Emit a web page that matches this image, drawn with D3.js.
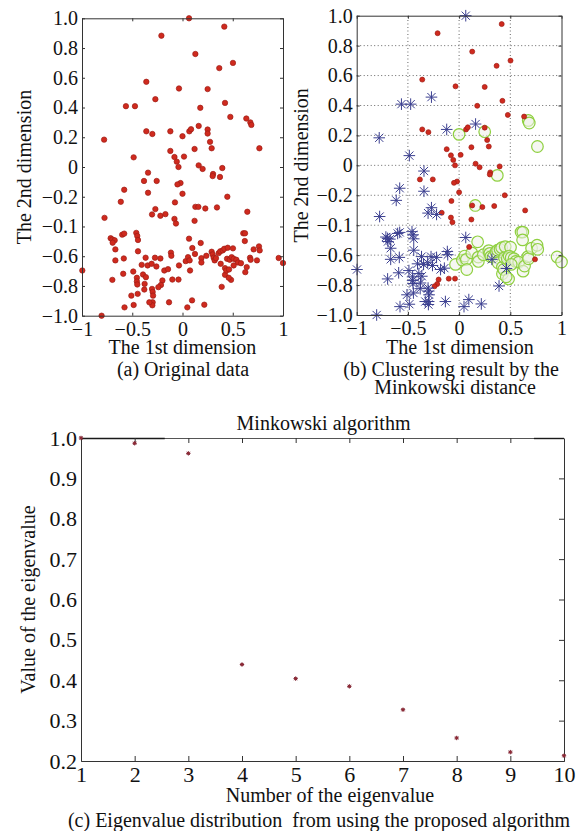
<!DOCTYPE html>
<html>
<head>
<meta charset="utf-8">
<script src="https://cdn.jsdelivr.net/npm/d3@7"></script>
<style>
  body { margin: 0; background: #fff; }
  svg { display: block; }
  text { font-family: "Liberation Serif", "Times New Roman", serif; fill: #111; }
</style>
</head>
<body>
<svg id="chart" width="576" height="831"></svg>
<script>
// samples: first and second dimension
const dim1 = [
  0.065, 0.416, -0.21, 0.128, 0.502, 0.366, -0.36, -0.035, 0.25, -0.27,
  -0.563, -0.473, 0.177, 0.423, 0.476, 0.635, 0.675, 0.685, -0.78, -0.36,
  -0.30, -0.121, 0.0, 0.068, 0.085, 0.161, 0.25, 0.25, 0.274, 0.29,
  0.12, 0.765, -0.121, -0.486, -0.08, 0.015, -0.057, -0.04, 0.161, 0.2,
  0.396, -0.343, 0.304, 0.30, 0.373, -0.383, -0.257, -0.02, -0.05, -0.58,
  -0.343, 0.0, 0.446, -0.614, -0.27, -0.303, -0.776, -0.22, -0.17, -0.08,
  -0.065, 0.128, 0.158, 0.227, 0.343, 0.645, 0.12, -0.715, -0.698, -0.675,
  -0.695, -0.668, -0.6, -0.58, -0.46, -0.45, -0.443, -0.443, -0.668, -0.584,
  -0.698, -0.59, -0.997, -0.49, -0.454, -0.454, -0.45, -0.367, -0.406, -0.347,
  -0.393, -0.364, -0.377, -0.38, -0.446, -0.509, -0.486, -0.577, -0.805, -0.307,
  -0.274, -0.26, -0.303, -0.297, -0.293, -0.297, -0.3, -0.33, -0.22, -0.115,
  -0.111, -0.181, -0.144, -0.2, -0.214, -0.24, -0.101, -0.134, -0.035, -0.04,
  0.065, 0.098, 0.048, 0.095, 0.217, 0.032, 0.055, 0.071, 0.075, 0.124,
  0.181, 0.188, 0.188, 0.237, 0.29, 0.3, 0.31, 0.32, 0.333, 0.36,
  0.376, 0.4, 0.416, 0.45, 0.502, 0.38, 0.39, 0.423, 0.423, 0.436,
  0.463, 0.443, 0.47, 0.489, 0.509, 0.536, 0.552, 0.582, 0.483, 0.46,
  0.509, 0.605, 0.622, 0.62, 0.625, 0.639, 0.672, 0.678, 0.708, 0.741,
  0.761, 0.768, 0.957, 1.0, -0.075
];
const dim2 = [
  1.0, 0.944, 0.883, 0.76, 0.70, 0.665, 0.573, 0.528, 0.524, 0.456,
  0.409, 0.409, 0.398, 0.431, 0.337, 0.326, 0.30, 0.283, 0.184, 0.24,
  0.222, 0.24, 0.207, 0.24, 0.254, 0.276, 0.252, 0.225, 0.169, 0.126,
  0.121, 0.126, 0.108, 0.065, 0.067, 0.07, 0.036, 0.0, 0.011, -0.013,
  -0.007, -0.038, -0.047, -0.061, -0.067, -0.094, -0.094, -0.108, -0.117, -0.153,
  -0.173, -0.18, -0.20, -0.234, -0.283, -0.319, -0.342, -0.328, -0.317, -0.349,
  -0.38, -0.268, -0.268, -0.279, -0.272, -0.301, -0.362, -0.479, -0.488, -0.493,
  -0.509, -0.554, -0.455, -0.448, -0.443, -0.464, -0.491, -0.567, -0.628, -0.615,
  -0.759, -0.718, -0.696, -0.703, -0.745, -0.77, -0.79, -0.61, -0.658, -0.662,
  -0.723, -0.741, -0.786, -0.824, -0.853, -0.865, -0.928, -0.944, -1.0, -0.651,
  -0.61, -0.669, -0.82, -0.84, -0.865, -0.91, -0.93, -0.91, -0.615, -0.576,
  -0.597, -0.696, -0.687, -0.763, -0.793, -0.808, -0.757, -0.91, -0.662, -0.757,
  -0.482, -0.545, -0.944, -0.897, -0.926, -0.633, -0.606, -0.628, -0.696, -0.585,
  -0.511, -0.613, -0.642, -0.597, -0.57, -0.588, -0.61, -0.628, -0.613, -0.579,
  -0.567, -0.561, -0.55, -0.543, -0.547, -0.651, -0.806, -0.68, -0.725, -0.696,
  -0.689, -0.617, -0.624, -0.606, -0.617, -0.624, -0.642, -0.647, -0.759, -0.745,
  -0.662, -0.446, -0.446, -0.498, -0.707, -0.673, -0.61, -0.624, -0.554, -0.628,
  -0.534, -0.561, -0.612, -0.646, -0.238
];
// cluster of each sample in panel (b): r = red dot, b = blue star, g = green circle
const cluster = [
  "b","r","r","r","r","r","r","r","r","b",
  "b","b","r","r","r","r","g","g","b","r",
  "r","b","g","r","r","b","r","g","r","r",
  "r","g","r","b","r","r","r","r","r","r",
  "r","b","r","r","g","r","r","r","r","b",
  "b","r","r","b","b","b","b","b","r","r",
  "r","r","g","r","r","r","r","b","b","b",
  "b","b","b","b","b","b","b","b","b","b",
  "b","b","b","b","b","b","b","b","b","b",
  "b","b","b","b","b","b","b","b","b","b",
  "b","b","b","b","b","b","b","b","b","b",
  "b","b","b","r","r","r","r","b","g","r",
  "b","r","b","b","b","g","g","g","g","g",
  "g","g","g","g","g","g","g","b","g","g",
  "g","g","g","g","g","g","b","g","g","g",
  "b","g","g","g","g","g","g","g","g","g",
  "g","g","g","g","g","g","g","g","g","r",
  "g","g","g","g","r"
];

const xTicks = [-1, -0.5, 0, 0.5, 1];
const xTickLabels = ["\u22121", "\u22120.5", "0", "0.5", "1"];
const yTicks = [1, 0.8, 0.6, 0.4, 0.2, 0, -0.2, -0.4, -0.6, -0.8, -1];
const yTickLabels = ["1.0", "0.8", "0.6", "0.4", "0.2", "0", "\u22120.2", "\u22120.1", "\u22120.6", "\u22120.8", "\u22121.0"];

// panel (c)
const eigNumber = [1, 2, 3, 4, 5, 6, 7, 8, 9, 10];
const eigValue = [1.0, 0.987, 0.962, 0.439, 0.404, 0.385, 0.327, 0.257, 0.222, 0.213];
const eigYTicks = [0.2, 0.3, 0.4, 0.5, 0.6, 0.7, 0.8, 0.9, 1.0];

const serif = '"Liberation Serif", "Times New Roman", serif';
const axisColor = "#333";
const svg = d3.select("#chart");

const samples = dim1.map((d, i) => ({ x: d, y: dim2[i], c: cluster[i] }));

function starPath(r) {
  const a = r * Math.SQRT1_2;
  return `M${-r},0L${r},0M0,${-r}L0,${r}M${-a},${-a}L${a},${a}M${-a},${a}L${a},${-a}`;
}

function styleAxis(sel, size) {
  sel.attr("font-family", serif).attr("font-size", size);
  sel.selectAll("path.domain").attr("stroke", axisColor);
  sel.selectAll(".tick line").attr("stroke", axisColor);
  sel.selectAll(".tick text").attr("fill", "#111");
}

function scatterPanel(cfg) {
  const x = d3.scaleLinear().domain([-1, 1]).range([cfg.left, cfg.right]);
  const y = d3.scaleLinear().domain([-1, 1]).range([cfg.bottom, cfg.top]);
  const g = svg.append("g");
  const tk = 3;

  if (cfg.grid) {
    g.append("g").selectAll("line").data(xTicks.slice(1, -1)).join("line")
      .attr("x1", d => x(d)).attr("x2", d => x(d))
      .attr("y1", y(-1)).attr("y2", y(1))
      .attr("stroke", "#666").attr("stroke-dasharray", "1,2.5");
    g.append("g").selectAll("line").data(yTicks.slice(1, -1)).join("line")
      .attr("y1", d => y(d)).attr("y2", d => y(d))
      .attr("x1", x(-1)).attr("x2", x(1))
      .attr("stroke", "#666").attr("stroke-dasharray", "1,2.5");
  }

  const marks = g.append("g");
  if (cfg.clustered) {
    marks.selectAll("circle.g").data(samples.filter(d => d.c === "g")).join("circle")
      .attr("class", "g")
      .attr("cx", d => x(d.x)).attr("cy", d => y(d.y)).attr("r", 5.8)
      .attr("fill", "#eef0e8").attr("fill-opacity", 0.55)
      .attr("stroke", "#8fd040").attr("stroke-width", 1.2);
    marks.selectAll("circle.r").data(samples.filter(d => d.c === "r")).join("circle")
      .attr("class", "r")
      .attr("cx", d => x(d.x)).attr("cy", d => y(d.y)).attr("r", 2.5)
      .attr("fill", "#cf2a1e").attr("stroke", "#9e1c16").attr("stroke-width", 0.7);
    marks.selectAll("path.b").data(samples.filter(d => d.c === "b")).join("path")
      .attr("class", "b")
      .attr("transform", d => `translate(${x(d.x)},${y(d.y)})`)
      .attr("d", starPath(5.8))
      .attr("stroke", "#3b3f90").attr("stroke-width", 1).attr("fill", "none");
  } else {
    marks.selectAll("circle").data(samples).join("circle")
      .attr("cx", d => x(d.x)).attr("cy", d => y(d.y)).attr("r", 2.7)
      .attr("fill", "#cf2a1e").attr("stroke", "#9e1c16").attr("stroke-width", 0.7);
  }

  g.append("g").attr("transform", `translate(0,${y(-1)})`)
    .call(d3.axisBottom(x).tickValues(xTicks).tickSizeInner(-tk).tickSizeOuter(0).tickPadding(6)
      .tickFormat((d, i) => xTickLabels[i]))
    .call(s => styleAxis(s, 20));
  g.append("g").attr("transform", `translate(0,${y(1)})`)
    .call(d3.axisTop(x).tickValues(xTicks).tickSizeInner(-tk).tickSizeOuter(0).tickFormat(""))
    .call(s => styleAxis(s, 20));
  g.append("g").attr("transform", `translate(${x(-1)},0)`)
    .call(d3.axisLeft(y).tickValues(yTicks).tickSizeInner(-tk).tickSizeOuter(0).tickPadding(4)
      .tickFormat((d, i) => yTickLabels[i]))
    .call(s => styleAxis(s, 20));
  g.append("g").attr("transform", `translate(${x(1)},0)`)
    .call(d3.axisRight(y).tickValues(yTicks).tickSizeInner(-tk).tickSizeOuter(0).tickFormat(""))
    .call(s => styleAxis(s, 20));

  g.append("text").attr("x", cfg.labelX).attr("y", 354)
    .attr("text-anchor", "middle").attr("font-size", 20).text("The 1st dimension");
  g.append("text")
    .attr("transform", `translate(${cfg.yLabelX},${(cfg.top + cfg.bottom) / 2}) rotate(-90)`)
    .attr("text-anchor", "middle").attr("font-size", 20).text("The 2nd dimension");
  cfg.caption.forEach((line, i) => {
    g.append("text").attr("x", line.cx).attr("y", 376 + i * 17.5)
      .attr("text-anchor", "middle").attr("font-size", 20).text(line.text);
  });
}

scatterPanel({
  left: 82, right: 283, top: 18.3, bottom: 315.7, grid: false, clustered: false,
  labelX: 182.5, yLabelX: 31, caption: [{ text: "(a) Original data", cx: 183 }]
});
scatterPanel({
  left: 356.7, right: 561.5, top: 15.7, bottom: 315, grid: true, clustered: true,
  labelX: 460, yLabelX: 308,
  caption: [{ text: "(b) Clustering result by the", cx: 451 }, { text: "Minkowski distance", cx: 455 }]
});

// panel (c): eigenvalue distribution
(function () {
  const left = 81, right = 564, top = 438, bottom = 761;
  const x = d3.scaleLinear().domain([1, 10]).range([left, right]);
  const y = d3.scaleLinear().domain([0.2, 1.0]).range([bottom, top]);
  const g = svg.append("g");
  const tk = 5;
  const inner = eigNumber.slice(1, -1);

  // top frame: lighter in the middle, darker at both ends
  g.append("path").attr("d", `M${x(1)},${top + 0.5}H${x(10)}`)
    .attr("stroke", "#555").attr("stroke-width", 1).attr("fill", "none");
  [[1, 2.56], [9.44, 10]].forEach(([a, b]) => {
    g.append("path").attr("d", `M${x(a)},${top + 0.5}H${x(b)}`)
      .attr("stroke", "#1a1a1a").attr("stroke-width", 1.4).attr("fill", "none");
  });
  g.append("g").attr("transform", `translate(0,${top})`)
    .call(d3.axisTop(x).tickValues(inner).tickSizeInner(-tk).tickSizeOuter(0).tickFormat(""))
    .call(s => styleAxis(s, 22))
    .call(s => s.select("path.domain").remove());

  g.append("g").attr("transform", `translate(0,${bottom})`)
    .call(d3.axisBottom(x).tickValues(eigNumber).tickSizeInner(0).tickSizeOuter(0).tickPadding(5.5)
      .tickFormat(d3.format("d")))
    .call(s => styleAxis(s, 22))
    .call(s => s.selectAll(".tick line").remove());
  g.append("g").attr("transform", `translate(0,${bottom})`)
    .call(d3.axisBottom(x).tickValues(inner).tickSizeInner(-tk).tickSizeOuter(0).tickFormat(""))
    .call(s => styleAxis(s, 22));
  g.append("g").attr("transform", `translate(${left},0)`)
    .call(d3.axisLeft(y).tickValues(eigYTicks).tickSizeInner(0).tickSizeOuter(0).tickPadding(4)
      .tickFormat(d3.format(".1f")))
    .call(s => styleAxis(s, 22));
  g.append("g").attr("transform", `translate(${right},0)`)
    .call(d3.axisRight(y).tickValues(eigYTicks.slice(1, -1)).tickSizeInner(-tk).tickSizeOuter(0).tickFormat(""))
    .call(s => styleAxis(s, 22));

  g.append("g").selectAll("path").data(eigNumber).join("path")
    .attr("transform", (d, i) => `translate(${x(d)},${y(eigValue[i])})`)
    .attr("d", starPath(2.2))
    .attr("stroke", "#7a2130").attr("stroke-width", 1).attr("fill", "none");
  g.append("g").selectAll("circle").data(eigNumber).join("circle")
    .attr("cx", d => x(d)).attr("cy", (d, i) => y(eigValue[i])).attr("r", 1.4)
    .attr("fill", "#8e2a36");

  g.append("text").attr("x", 323.5).attr("y", 430).attr("text-anchor", "middle")
    .attr("font-size", 20).text("Minkowski algorithm");
  g.append("text")
    .attr("transform", `translate(35,${(top + bottom) / 2}) rotate(-90)`)
    .attr("text-anchor", "middle").attr("font-size", 20).text("Value of the eigenvalue");
  g.append("text").attr("x", 330).attr("y", 802).attr("text-anchor", "middle")
    .attr("font-size", 20).text("Number of the eigenvalue");
  g.append("text").attr("x", 319).attr("y", 827).attr("text-anchor", "middle")
    .attr("font-size", 20).style("white-space", "pre")
    .text("(c) Eigenvalue distribution  from using the proposed algorithm");
})();
</script>
</body>
</html>
